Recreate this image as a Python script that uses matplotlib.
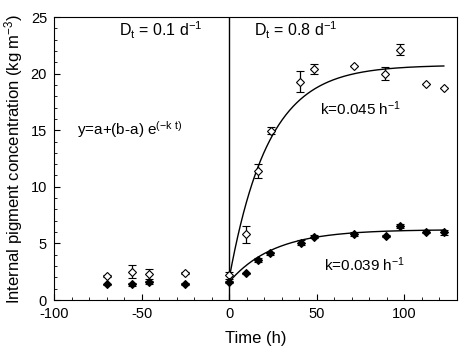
import matplotlib
matplotlib.use('Agg')
import matplotlib.pyplot as plt
import numpy

# open diamonds (upper series)
t_open = [-70, -55.6, -46, -25, 0, 9.5, 16.4, 23.8, 40.6, 48.2, 71.4, 89.1, 97.7, 112.6, 122.5]
y_open = [2.15, 2.5, 2.3, 2.4, 2.2, 5.8, 11.4, 14.95, 19.3, 20.4, 20.7, 20.0, 22.1, 19.1, 18.75]
e_open = [0.1, 0.56, 0.45, 0.1, 0.3, 0.75, 0.65, 0.3, 0.9, 0.45, 0.0, 0.55, 0.5, 0.0, 0.0]

# filled diamonds (lower series)
t_fill = [-70, -55.6, -46, -25, 0, 9.7, 16.2, 23.4, 41, 48.2, 71.4, 89.5, 97.7, 112.6, 122.5]
y_fill = [1.4, 1.38, 1.56, 1.41, 1.56, 2.35, 3.53, 4.12, 5.07, 5.6, 5.83, 5.65, 6.54, 6.04, 5.98]
e_fill = [0.05, 0.1, 0.12, 0.05, 0.1, 0.05, 0.15, 0.15, 0.2, 0.1, 0.15, 0.05, 0.15, 0.12, 0.2]

# fit parameters y = a + (b - a) exp(-k t)
fit_open = (20.75, 1.9, 0.045)
fit_fill = (6.22, 1.6, 0.039)

plt.rcParams['font.family'] = ['Liberation Sans', 'DejaVu Sans']
plt.rcParams['mathtext.fontset'] = 'custom'
plt.rcParams['mathtext.rm'] = 'Liberation Sans'
plt.rcParams['mathtext.it'] = 'Liberation Sans'
plt.rcParams['axes.unicode_minus'] = False

fig = plt.figure(figsize=(4.68, 3.52), dpi=100)
ax = fig.add_axes([0.1154, 0.1477, 0.861, 0.804])

tt = numpy.linspace(0, 122.5, 300)
for a, b, k in [fit_open, fit_fill]:
  ax.plot(tt, a + (b - a) * numpy.exp(-k * tt), 'k-', linewidth=1.0)

ax.errorbar(t_open, y_open, yerr=e_open, fmt='D', mfc='white', mec='black',
            ecolor='black', ms=4, mew=0.8, capsize=3, elinewidth=0.9, capthick=0.9)
ax.errorbar(t_fill, y_fill, yerr=e_fill, fmt='D', mfc='black', mec='black',
            ecolor='black', ms=4, mew=0.8, capsize=3, elinewidth=0.9, capthick=0.9)

ax.axvline(0, color='black', linewidth=1.0)

ax.set_xlim(-100, 130)
ax.set_ylim(0, 25)
ax.set_xticks([-100, -50, 0, 50, 100])
ax.set_xticks(numpy.arange(-100, 131, 10), minor=True)
ax.set_yticks([0, 5, 10, 15, 20, 25])
ax.set_yticks(numpy.arange(0, 26, 1), minor=True)
ax.tick_params(which='both', direction='in', labelsize=10.5, pad=5)
ax.tick_params(which='major', length=4)
ax.tick_params(which='minor', length=2.5)
ax.set_xlabel('Time (h)', fontsize=12, labelpad=7)
ax.set_ylabel('Internal pigment concentration (kg m$^{-3}$)', fontsize=12, labelpad=4)

ax.text(-63, 23.3, r'D$_\mathrm{t}$ = 0.1 d$^{-1}$', fontsize=11.5)
ax.text(14, 23.3, r'D$_\mathrm{t}$ = 0.8 d$^{-1}$', fontsize=11.5)
ax.text(-87, 14.6, r'y=a+(b-a) e$^{(-k\ t)}$', fontsize=11)
ax.text(52, 16.3, r'k=0.045 h$^{-1}$', fontsize=11)
ax.text(54, 2.6, r'k=0.039 h$^{-1}$', fontsize=11)

fig.savefig('out.png', dpi=100)
